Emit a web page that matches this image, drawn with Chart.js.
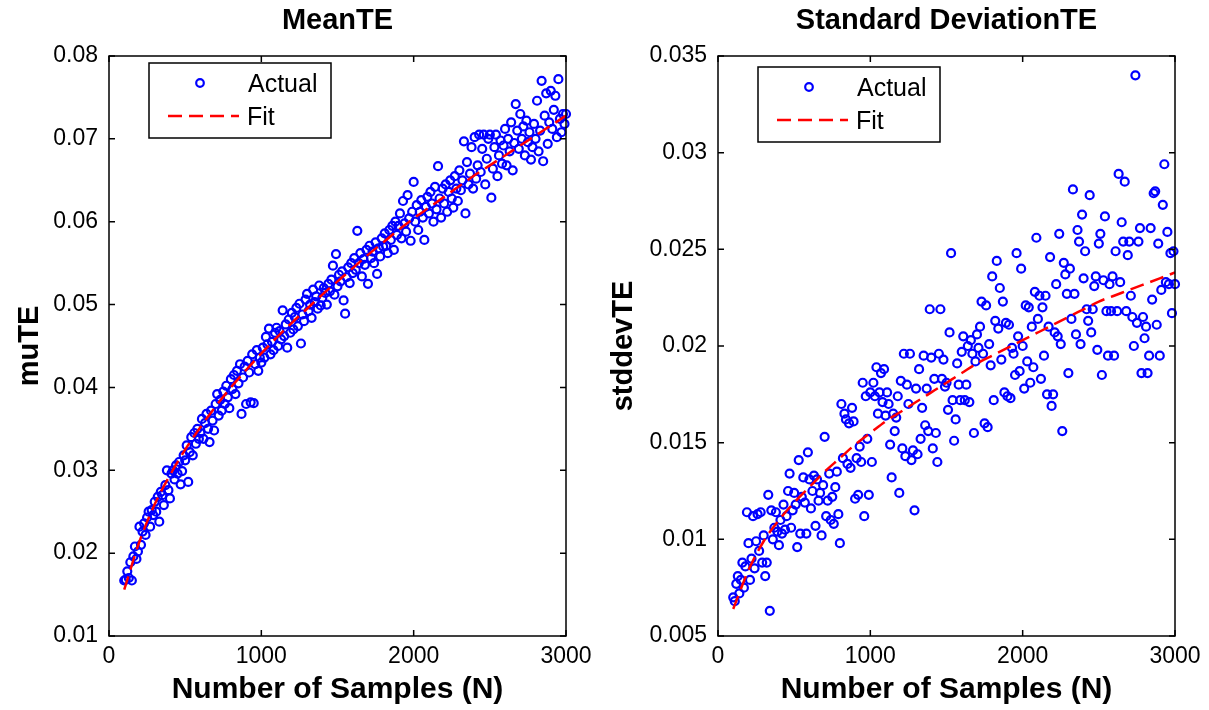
<!DOCTYPE html>
<html>
<head>
<meta charset="utf-8">
<script src="https://cdn.jsdelivr.net/npm/chart.js"></script>
<style>
  body { margin: 0; background: #fff; }
  #wrap { position: relative; width: 1209px; height: 710px; }
  #mean-chart { position: absolute; left: 0; top: 0; }
  #sd-chart { position: absolute; left: 605px; top: 0; }
</style>
</head>
<body>
<div id="wrap">
  <canvas id="mean-chart" width="605" height="710"></canvas>
  <canvas id="sd-chart" width="604" height="710"></canvas>
</div>
<script>
// number of samples, one point every 10 samples
const sampleN = [
  100, 110, 120, 130, 140, 150, 160, 170, 180, 190,
  200, 210, 220, 230, 240, 250, 260, 270, 280, 290,
  300, 310, 320, 330, 340, 350, 360, 370, 380, 390,
  400, 410, 420, 430, 440, 450, 460, 470, 480, 490,
  500, 510, 520, 530, 540, 550, 560, 570, 580, 590,
  600, 610, 620, 630, 640, 650, 660, 670, 680, 690,
  700, 710, 720, 730, 740, 750, 760, 770, 780, 790,
  800, 810, 820, 830, 840, 850, 860, 870, 880, 890,
  900, 910, 920, 930, 940, 950, 960, 970, 980, 990,
  1000, 1010, 1020, 1030, 1040, 1050, 1060, 1070, 1080, 1090,
  1100, 1110, 1120, 1130, 1140, 1150, 1160, 1170, 1180, 1190,
  1200, 1210, 1220, 1230, 1240, 1250, 1260, 1270, 1280, 1290,
  1300, 1310, 1320, 1330, 1340, 1350, 1360, 1370, 1380, 1390,
  1400, 1410, 1420, 1430, 1440, 1450, 1460, 1470, 1480, 1490,
  1500, 1510, 1520, 1530, 1540, 1550, 1560, 1570, 1580, 1590,
  1600, 1610, 1620, 1630, 1640, 1650, 1660, 1670, 1680, 1690,
  1700, 1710, 1720, 1730, 1740, 1750, 1760, 1770, 1780, 1790,
  1800, 1810, 1820, 1830, 1840, 1850, 1860, 1870, 1880, 1890,
  1900, 1910, 1920, 1930, 1940, 1950, 1960, 1970, 1980, 1990,
  2000, 2010, 2020, 2030, 2040, 2050, 2060, 2070, 2080, 2090,
  2100, 2110, 2120, 2130, 2140, 2150, 2160, 2170, 2180, 2190,
  2200, 2210, 2220, 2230, 2240, 2250, 2260, 2270, 2280, 2290,
  2300, 2310, 2320, 2330, 2340, 2350, 2360, 2370, 2380, 2390,
  2400, 2410, 2420, 2430, 2440, 2450, 2460, 2470, 2480, 2490,
  2500, 2510, 2520, 2530, 2540, 2550, 2560, 2570, 2580, 2590,
  2600, 2610, 2620, 2630, 2640, 2650, 2660, 2670, 2680, 2690,
  2700, 2710, 2720, 2730, 2740, 2750, 2760, 2770, 2780, 2790,
  2800, 2810, 2820, 2830, 2840, 2850, 2860, 2870, 2880, 2890,
  2900, 2910, 2920, 2930, 2940, 2950, 2960, 2970, 2980, 2990,
  3000
];

const muActual = [
  .0167, .0168, .0178, .0170, .0189, .0167, .0196, .0208, .0193, .0202,
  .0232, .0210, .0226, .0236, .0222, .0243, .0250, .0232, .0252, .0246,
  .0262, .0250, .0268, .0238, .0274, .0270, .0258, .0282, .0300, .0276,
  .0266, .0296, .0300, .0289, .0306, .0296, .0310, .0283, .0299, .0318,
  .0312, .0330, .0286, .0322, .0340, .0318, .0345, .0332, .0350, .0338,
  .0345, .0362, .0338, .0357, .0368, .0350, .0334, .0372, .0360, .0348,
  .0380, .0392, .0366, .0385, .0372, .0395, .0380, .0402, .0388, .0375,
  .0410, .0398, .0415, .0392, .0420, .0405, .0428, .0368, .0412, .0425,
  .0380, .0432, .0418, .0382, .0440, .0381, .0428, .0445, .0420, .0436,
  .0430, .0448, .0436, .0461, .0452, .0471, .0440, .0455, .0445, .0466,
  .0472, .0450, .0468, .0458, .0493, .0462, .0476, .0448, .0482, .0466,
  .0490, .0470, .0485, .0496, .0474, .0501, .0453, .0488, .0480, .0506,
  .0513, .0492, .0500, .0484, .0518, .0503, .0510, .0495, .0523, .0499,
  .0508, .0520, .0514, .0500, .0525, .0516, .0530, .0547, .0512, .0561,
  .0522, .0536, .0528, .0540, .0505, .0489, .0533, .0545, .0526, .0550,
  .0538, .0556, .0542, .0589, .0550, .0562, .0534, .0555, .0548, .0566,
  .0525, .0571, .0556, .0564, .0550, .0575, .0537, .0568, .0558, .0580,
  .0570, .0586, .0571, .0562, .0590, .0578, .0595, .0566, .0600, .0584,
  .0595, .0610, .0580, .0625, .0598, .0588, .0632, .0604, .0577, .0612,
  .0648, .0600, .0620, .0590, .0612, .0626, .0605, .0578, .0618, .0630,
  .0610, .0636, .0622, .0600, .0642, .0615, .0667, .0628, .0605, .0640,
  .0622, .0645, .0612, .0636, .0650, .0628, .0617, .0655, .0640, .0625,
  .0662, .0638, .0650, .0697, .0610, .0672, .0645, .0658, .0690, .0640,
  .0702, .0652, .0668, .0705, .0660, .0688, .0705, .0645, .0676, .0700,
  .0705, .0629, .0664, .0690, .0705, .0655, .0680, .0698, .0670, .0692,
  .0712, .0668, .0700, .0685, .0720, .0662, .0695, .0742, .0710, .0688,
  .0730, .0700, .0715, .0680, .0722, .0696, .0708, .0675, .0690, .0718,
  .0700, .0746, .0685, .0710, .0770, .0673, .0728, .0755, .0694, .0720,
  .0758, .0712, .0735, .0752, .0702, .0772, .0724, .0708, .0730, .0718,
  .0730
];

const sdActual = [
  .0070, .0068, .0077, .0081, .0072, .0079, .0088, .0075, .0086, .0114,
  .0098, .0079, .0090, .0112, .0085, .0099, .0113, .0094, .0114, .0088,
  .0102, .0081, .0088, .0123, .0063, .0115, .0100, .0106, .0114, .0104,
  .0097, .0110, .0103, .0118, .0105, .0112, .0125, .0134, .0106, .0115,
  .0124, .0118, .0096, .0141, .0103, .0122, .0132, .0119, .0103, .0145,
  .0131, .0116, .0125, .0133, .0107, .0131, .0120, .0124, .0102, .0128,
  .0153, .0112, .0120, .0134, .0110, .0122, .0108, .0127, .0135, .0113,
  .0098, .0170, .0142, .0165, .0162, .0139, .0160, .0137, .0168, .0161,
  .0121, .0142, .0123, .0148, .0140, .0181, .0112, .0174, .0152, .0123,
  .0176, .0140, .0181, .0174, .0189, .0165, .0176, .0186, .0171, .0188,
  .0164, .0176, .0170, .0149, .0132, .0165, .0156, .0163, .0174, .0124,
  .0182, .0147, .0196, .0143, .0180, .0170, .0196, .0141, .0146, .0115,
  .0178, .0144, .0188, .0152, .0168, .0195, .0159, .0178, .0156, .0219,
  .0194, .0147, .0183, .0155, .0140, .0196, .0219, .0183, .0193, .0179,
  .0181, .0167, .0207, .0248, .0172, .0151, .0162, .0191, .0180, .0172,
  .0197, .0205, .0172, .0180, .0200, .0171, .0203, .0196, .0155, .0192,
  .0206, .0199, .0210, .0223, .0196, .0160, .0221, .0158, .0201, .0190,
  .0236, .0172, .0213, .0244, .0209, .0230, .0193, .0223, .0176, .0212,
  .0174, .0211, .0173, .0199, .0196, .0185, .0248, .0205, .0187, .0240,
  .0200, .0178, .0221, .0192, .0220, .0181, .0210, .0189, .0228, .0256,
  .0214, .0226, .0183, .0220, .0195, .0226, .0175, .0210, .0246, .0169,
  .0175, .0207, .0232, .0205, .0258, .0201, .0156, .0243, .0237, .0227,
  .0186, .0240, .0214, .0281, .0227, .0206, .0260, .0254, .0201, .0268,
  .0235, .0249, .0219, .0213, .0278, .0207, .0219, .0231, .0236, .0198,
  .0253, .0258, .0185, .0234, .0267, .0218, .0195, .0232, .0218, .0236,
  .0195, .0249, .0218, .0289, .0233, .0264, .0254, .0285, .0218, .0247,
  .0254, .0226, .0215, .0200, .0340, .0212, .0254, .0261, .0186, .0215,
  .0204, .0210, .0186, .0195, .0261, .0224, .0279, .0280, .0211, .0253,
  .0195, .0229, .0273, .0294, .0233, .0259, .0232, .0248, .0217, .0249,
  .0232
];

// fitted curves, read every 100 samples
const fitN = [
  100, 200, 300, 400, 500, 600, 700, 800, 900, 1000,
  1100, 1200, 1300, 1400, 1500, 1600, 1700, 1800, 1900, 2000,
  2100, 2200, 2300, 2400, 2500, 2600, 2700, 2800, 2900, 3000
];
const muFit = [
  .0156, .0214, .0259, .0294, .0325, .0352, .0377, .0400, .0421, .0441,
  .0460, .0478, .0495, .0512, .0528, .0544, .0560, .0575, .0590, .0604,
  .0617, .0630, .0643, .0656, .0668, .0680, .0692, .0704, .0716, .0728
];
const sdFit = [
  .0064, .0084, .0099, .0110, .0119, .0127, .0135, .0142, .0149, .0155,
  .0161, .0166, .0171, .0176, .0181, .0186, .0191, .0195, .0199, .0203,
  .0207, .0211, .0215, .0219, .0223, .0226, .0229, .0232, .0235, .0238
];

const xTickValues = [0, 1000, 2000, 3000];
const xTickLabels = ["0", "1000", "2000", "3000"];
const muTickValues = [0.01, 0.02, 0.03, 0.04, 0.05, 0.06, 0.07, 0.08];
const muTickLabels = ["0.01", "0.02", "0.03", "0.04", "0.05", "0.06", "0.07", "0.08"];
const sdTickValues = [0.005, 0.01, 0.015, 0.02, 0.025, 0.03, 0.035];
const sdTickLabels = ["0.005", "0.01", "0.015", "0.02", "0.025", "0.03", "0.035"];

const FONT = "'Liberation Sans', Arial, Helvetica, sans-serif";

// axes box with inward ticks + boxed legend, matlab style
const matlabFrame = {
  id: "matlabFrame",
  afterDraw(chart, args, opts) {
    const { ctx, chartArea: a, scales } = chart;
    ctx.save();
    ctx.strokeStyle = "#000";
    ctx.lineWidth = 1.5;
    ctx.strokeRect(a.left, a.top, a.right - a.left, a.bottom - a.top);
    const tl = 6;
    ctx.beginPath();
    scales.x.ticks.forEach((t) => {
      const px = scales.x.getPixelForValue(t.value);
      ctx.moveTo(px, a.bottom); ctx.lineTo(px, a.bottom - tl);
      ctx.moveTo(px, a.top); ctx.lineTo(px, a.top + tl);
    });
    scales.y.ticks.forEach((t) => {
      const py = scales.y.getPixelForValue(t.value);
      ctx.moveTo(a.left, py); ctx.lineTo(a.left + tl, py);
      ctx.moveTo(a.right, py); ctx.lineTo(a.right - tl, py);
    });
    ctx.stroke();

    // legend
    const ds = chart.data.datasets;
    const lx = a.left + 40, ly = a.top + opts.dy, lw = 182, lh = 75;
    ctx.fillStyle = "#fff";
    ctx.fillRect(lx, ly, lw, lh);
    ctx.strokeRect(lx, ly, lw, lh);
    ctx.beginPath();
    ctx.arc(lx + 51, ly + 20, 3.8, 0, Math.PI * 2);
    ctx.strokeStyle = ds[0].borderColor;
    ctx.lineWidth = 2.2;
    ctx.stroke();
    ctx.beginPath();
    ctx.setLineDash([14, 7]);
    ctx.strokeStyle = ds[1].borderColor;
    ctx.lineWidth = 2.5;
    ctx.moveTo(lx + 19, ly + 53);
    ctx.lineTo(lx + 90, ly + 53);
    ctx.stroke();
    ctx.setLineDash([]);
    ctx.fillStyle = "#000";
    ctx.font = "25px " + FONT;
    ctx.textBaseline = "middle";
    ctx.textAlign = "left";
    ctx.fillText(ds[0].label, lx + 99, ly + 22);
    ctx.fillText(ds[1].label, lx + 98, ly + 55);
    ctx.restore();
  },
};

function makeChart(canvasId, cfg) {
  const ctx = document.querySelector(canvasId).getContext("2d");
  return new Chart(ctx, {
    type: "scatter",
    data: {
      datasets: [
        {
          label: "Actual",
          data: sampleN.map((n, i) => ({ x: n, y: cfg.actual[i] })),
          borderColor: "#0000ff",
          backgroundColor: "rgba(0,0,0,0)",
          borderWidth: 2.2,
          pointRadius: 4,
          pointHoverRadius: 4,
          clip: 8,
          order: 2,
        },
        {
          label: "Fit",
          data: fitN.map((n, i) => ({ x: n, y: cfg.fit[i] })),
          showLine: true,
          borderColor: "#ff0000",
          borderWidth: 2.5,
          borderDash: [14, 7],
          pointRadius: 0,
          cubicInterpolationMode: "monotone",
          fill: false,
          order: 1,
        },
      ],
    },
    options: {
      responsive: false,
      animation: false,
      layout: { padding: { left: 0, right: cfg.rightPad, top: 0, bottom: 0 } },
      plugins: {
        legend: { display: false },
        tooltip: { enabled: false },
        title: {
          display: true,
          text: cfg.title,
          fullSize: false,
          color: "#000",
          font: { family: FONT, size: 29, weight: "bold" },
          padding: { top: 4, bottom: 17.2 },
        },
        matlabFrame: { dy: cfg.legendDy },
      },
      scales: {
        x: {
          type: "linear",
          min: 0,
          max: 3000,
          grid: { display: false, drawTicks: false },
          border: { display: false },
          afterBuildTicks: (s) => { s.ticks = xTickValues.map((v) => ({ value: v })); },
          afterFit: (s) => { s.height = 74; s.paddingLeft = 0; s.paddingRight = 0; },
          ticks: {
            color: "#000",
            padding: 7,
            maxRotation: 0,
            font: { family: FONT, size: 23 },
            callback: (v, i) => xTickLabels[i],
          },
          title: {
            display: true,
            text: "Number of Samples (N)",
            color: "#000",
            font: { family: FONT, size: 30, weight: "bold" },
            padding: { top: 0, bottom: 2 },
          },
        },
        y: {
          type: "linear",
          min: cfg.yTicks[0],
          max: cfg.yTicks[cfg.yTicks.length - 1],
          grid: { display: false, drawTicks: false },
          border: { display: false },
          afterBuildTicks: (s) => { s.ticks = cfg.yTicks.map((v) => ({ value: v })); },
          afterFit: (s) => { s.width = cfg.axisW; s.paddingTop = 0; s.paddingBottom = 0; },
          ticks: {
            color: "#000",
            padding: 11,
            font: { family: FONT, size: 23 },
            callback: (v, i) => cfg.yLabels[i],
          },
          title: {
            display: true,
            text: cfg.yTitle,
            color: "#000",
            font: { family: FONT, size: 29, weight: "bold" },
            padding: { top: cfg.yTitlePad, bottom: 0 },
          },
        },
      },
    },
    plugins: [matlabFrame],
  });
}

const meanChart = makeChart("#mean-chart", {
  title: "MeanTE",
  yTitle: "muTE",
  actual: muActual,
  fit: muFit,
  yTicks: muTickValues,
  yLabels: muTickLabels,
  axisW: 109,
  rightPad: 39,
  yTitlePad: 13,
  legendDy: 7,
});

const sdChart = makeChart("#sd-chart", {
  title: "Standard DeviationTE",
  yTitle: "stddevTE",
  actual: sdActual,
  fit: sdFit,
  yTicks: sdTickValues,
  yLabels: sdTickLabels,
  axisW: 113,
  rightPad: 34,
  yTitlePad: 2,
  legendDy: 11,
});
</script>
</body>
</html>
